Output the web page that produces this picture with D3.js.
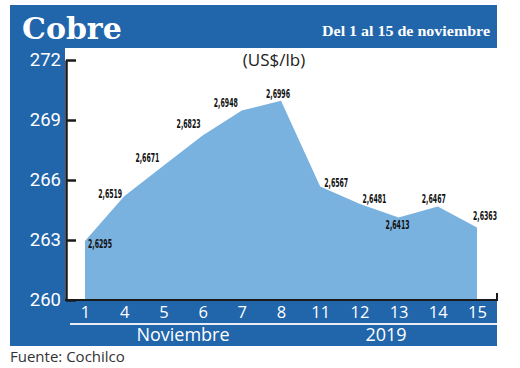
<!DOCTYPE html>
<html><head><meta charset="utf-8">
<script src="https://cdn.jsdelivr.net/npm/d3@7"></script>
<style>body{margin:0;background:#fff}svg{display:block}</style>
</head><body>
<svg id="c" width="520" height="368"></svg>
<script>
const days = ["1","4","5","6","7","8","11","12","13","14","15"];
const values = [262.95,265.19,266.71,268.23,269.48,269.96,265.67,264.81,264.13,264.67,263.63];
const labels = ["2,6295","2,6519","2,6671","2,6823","2,6948","2,6996","2,6567","2,6481","2,6413","2,6467","2,6363"];
const yTicks = [260,263,266,269,272];
const labelOffsets = [[15,7],[-14,2],[-16,-4],[-14,-7],[-16,-3],[-3,-3],[16,0],[15,-1],[-1,12],[-4,-4],[8,-7]];

const svg = d3.select("#c");
const blue = "#2165ab", fill = "#79b1df";

// frame
svg.append("rect").attr("x",10).attr("y",5).attr("width",487).attr("height",341).attr("fill",blue);
svg.append("rect").attr("x",65).attr("y",48).attr("width",432).attr("height",253).attr("fill","#fff");

const x = d3.scalePoint().domain(days).range([85,477]);
const y = d3.scaleLinear().domain([260,272]).range([300,60]);

// area
const area = d3.area().x((d,i)=>x(days[i])).y0(y(260)).y1(d=>y(d)).curve(d3.curveLinear);
svg.append("path").datum(values).attr("d",area).attr("fill",fill);

// y axis
const ya = svg.append("g").attr("transform","translate(66,0)")
  .call(d3.axisLeft(y).tickValues(yTicks).tickSizeInner(-10).tickSizeOuter(0).tickPadding(5));
ya.select(".domain").attr("stroke","#1a1a1a").attr("stroke-width",2.5);
ya.selectAll(".tick line").attr("stroke","#1a1a1a").attr("stroke-width",2.5);
ya.selectAll(".tick text").attr("fill","#fff").attr("font-family","Roboto, sans-serif").attr("font-size",18.5);

// bottom line
svg.append("path").attr("d",`M65,${y(260)}H497V${y(260)-7}`).attr("fill","none").attr("stroke","#1a1a1a").attr("stroke-width",2);

// x axis
const xa = svg.append("g").attr("transform",`translate(0,${y(260)})`)
  .call(d3.axisBottom(x).tickSize(0).tickPadding(6));
xa.select(".domain").remove();
xa.selectAll(".tick text").attr("fill","#fff").attr("font-family","'Open Sans', sans-serif").attr("font-size",16.5);

// separator
svg.append("line").attr("x1",70).attr("x2",497).attr("y1",324).attr("y2",324).attr("stroke","#e8eef6").attr("stroke-width",2);

svg.append("text").attr("x",183).attr("y",341).attr("text-anchor","middle").attr("fill","#fff")
  .attr("font-family","'Open Sans', sans-serif").attr("font-size",18).text("Noviembre");
svg.append("text").attr("x",386).attr("y",341).attr("text-anchor","middle").attr("fill","#fff")
  .attr("font-family","'Open Sans', sans-serif").attr("font-size",18).text("2019");

// title
svg.append("text").attr("x",22).attr("y",39).attr("fill","#fff")
  .attr("font-family","'DejaVu Serif', serif").attr("font-weight","bold").attr("font-size",30).text("Cobre");
svg.append("text").attr("x",490).attr("y",36).attr("text-anchor","end").attr("fill","#fff")
  .attr("font-family","'Liberation Serif', serif").attr("font-weight","bold").attr("font-size",15.5)
  .attr("textLength",168).attr("lengthAdjust","spacingAndGlyphs").text("Del 1  al 15 de noviembre");

svg.append("text").attr("x",274).attr("y",66).attr("text-anchor","middle").attr("fill","#222")
  .attr("font-family","'Open Sans', sans-serif").attr("font-size",17).text("(US$/lb)");

// data labels
svg.append("g").selectAll("text").data(values).join("text")
  .attr("x",(d,i)=>x(days[i])+labelOffsets[i][0])
  .attr("y",(d,i)=>y(d)+labelOffsets[i][1])
  .attr("text-anchor","middle").attr("fill","#111")
  .attr("font-family","'DejaVu Sans Condensed','Liberation Sans Narrow',sans-serif")
  .attr("font-weight","bold").attr("font-size",12)
  .attr("textLength",24).attr("lengthAdjust","spacingAndGlyphs")
  .text((d,i)=>labels[i]);

svg.append("text").attr("x",10).attr("y",362).attr("fill","#333")
  .attr("font-family","'Open Sans', sans-serif").attr("font-size",15).text("Fuente: Cochilco");
</script>
</body></html>
